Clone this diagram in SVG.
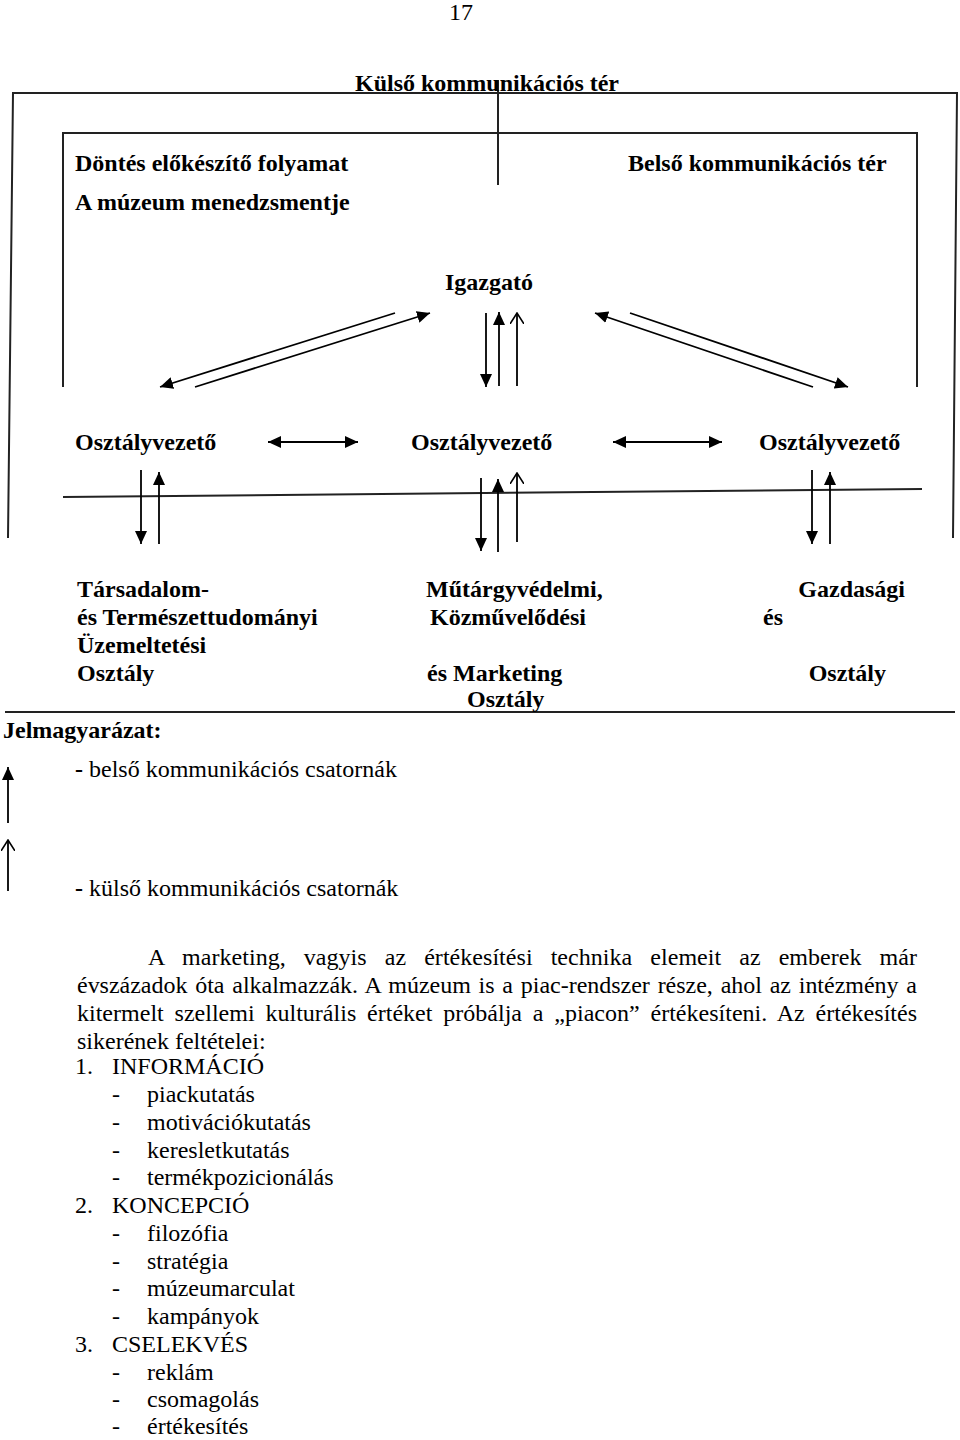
<svg xmlns="http://www.w3.org/2000/svg" width="960" height="1440" viewBox="0 0 960 1440">
<style>
text{font-family:"Liberation Serif","Times New Roman",serif;font-size:24px;fill:#000}
.b{font-weight:bold}
.ln{stroke:#000;stroke-width:1.8;fill:none}
.fr{stroke:#222;stroke-width:2;fill:none}
.f{marker-end:url(#af)}
.o{marker-end:url(#ao)}
.d{marker-start:url(#af);marker-end:url(#af)}
</style>
<defs>
<marker id="af" markerUnits="userSpaceOnUse" markerWidth="14" markerHeight="12" refX="13" refY="6" orient="auto-start-reverse"><path d="M0,0 L13,6 L0,12 z" fill="#000"/></marker>
<marker id="ao" markerUnits="userSpaceOnUse" markerWidth="12" markerHeight="14" refX="11" refY="7" orient="auto"><path d="M0,0 L11,7 L0,14" fill="none" stroke="#000" stroke-width="1.6"/></marker>
</defs>
<rect width="960" height="1440" fill="#fff"/>
<text x="449" y="20">17</text>

<g id="frames">
<polyline class="fr" points="8,538 13,93 957,93 953,538"/>
<polyline class="fr" points="63,387 63,133 917,133 917,387"/>
<line class="fr" x1="498" y1="80" x2="498" y2="185"/>
<line class="fr" x1="63" y1="497" x2="922" y2="489"/>
<line class="fr" x1="5" y1="712" x2="955" y2="712"/>
</g>

<g id="kulso"><text class="b" x="355" y="91">Külső kommunikációs tér</text></g>
<g id="dontes"><text class="b" x="75" y="171">Döntés előkészítő folyamat</text></g>
<g id="belso"><text class="b" x="628" y="171">Belső kommunikációs tér</text></g>
<g id="menedzsment"><text class="b" x="75" y="210">A múzeum menedzsmentje</text></g>
<g id="igazgato"><text class="b" x="445" y="290">Igazgató</text></g>
<g id="ov1"><text class="b" x="75" y="450">Osztályvezető</text></g>
<g id="ov2"><text class="b" x="411" y="450">Osztályvezető</text></g>
<g id="ov3"><text class="b" x="759" y="450">Osztályvezető</text></g>

<g id="osztaly1">
<text class="b" x="77" y="597">Társadalom-</text>
<text class="b" x="77" y="625">és Természettudományi</text>
<text class="b" x="77" y="653">Üzemeltetési</text>
<text class="b" x="77" y="681">Osztály</text>
</g>
<g id="osztaly2">
<text class="b" x="426" y="597">Műtárgyvédelmi,</text>
<text class="b" x="430" y="625">Közművelődési</text>
<text class="b" x="427" y="681">és Marketing</text>
<text class="b" x="467" y="707">Osztály</text>
</g>
<g id="osztaly3">
<text class="b" x="905" y="597" text-anchor="end">Gazdasági</text>
<text class="b" x="763" y="625">és</text>
<text class="b" x="886" y="681" text-anchor="end">Osztály</text>
</g>

<g id="connectors">
<line class="ln f" x1="395" y1="313" x2="160" y2="387"/>
<line class="ln f" x1="195" y1="387" x2="430" y2="313"/>
<line class="ln f" x1="813" y1="387" x2="595" y2="313"/>
<line class="ln f" x1="630" y1="313" x2="848" y2="387"/>
<line class="ln f" x1="486" y1="313" x2="486" y2="387"/>
<line class="ln f" x1="499" y1="386" x2="499" y2="312"/>
<line class="ln o" x1="517" y1="386" x2="517" y2="313"/>
<line class="ln d" x1="268" y1="442" x2="358" y2="442"/>
<line class="ln d" x1="613" y1="442" x2="722" y2="442"/>
<line class="ln f" x1="141" y1="470" x2="141" y2="544"/>
<line class="ln f" x1="159" y1="544" x2="159" y2="472"/>
<line class="ln f" x1="481" y1="478" x2="481" y2="551"/>
<line class="ln f" x1="498" y1="552" x2="498" y2="479"/>
<line class="ln o" x1="517" y1="542" x2="517" y2="473"/>
<line class="ln f" x1="812" y1="470" x2="812" y2="544"/>
<line class="ln f" x1="830" y1="544" x2="830" y2="472"/>
</g>

<g id="legend">
<text class="b" x="3" y="738">Jelmagyarázat:</text>
<line class="ln f" x1="8" y1="823" x2="8" y2="767"/>
<text x="75" y="777"><tspan class="b">-</tspan> belső kommunikációs csatornák</text>
<line class="ln o" x1="8" y1="891" x2="8" y2="840"/>
<text x="75" y="896"><tspan class="b">-</tspan> külső kommunikációs csatornák</text>
</g>

<g id="paragraph">
<text x="148" y="965" word-spacing="12" textLength="769" lengthAdjust="spacing">A marketing, vagyis az értékesítési technika elemeit az emberek már</text>
<text x="77" y="993" word-spacing="1.8" textLength="840" lengthAdjust="spacing">évszázadok óta alkalmazzák. A múzeum is a piac-rendszer része, ahol az intézmény a</text>
<text x="77" y="1021" word-spacing="4.8" textLength="840" lengthAdjust="spacing">kitermelt szellemi kulturális értéket próbálja a „piacon” értékesíteni. Az értékesítés</text>
<text x="77" y="1049">sikerének feltételei:</text>
</g>

<g id="list">
<text x="75" y="1074">1.</text><text x="112" y="1074">INFORMÁCIÓ</text>
<text x="112" y="1102">-</text><text x="147" y="1102">piackutatás</text>
<text x="112" y="1130">-</text><text x="147" y="1130">motivációkutatás</text>
<text x="112" y="1158">-</text><text x="147" y="1158">keresletkutatás</text>
<text x="112" y="1185">-</text><text x="147" y="1185">termékpozicionálás</text>
<text x="75" y="1213">2.</text><text x="112" y="1213">KONCEPCIÓ</text>
<text x="112" y="1241">-</text><text x="147" y="1241">filozófia</text>
<text x="112" y="1269">-</text><text x="147" y="1269">stratégia</text>
<text x="112" y="1296">-</text><text x="147" y="1296">múzeumarculat</text>
<text x="112" y="1324">-</text><text x="147" y="1324">kampányok</text>
<text x="75" y="1352">3.</text><text x="112" y="1352">CSELEKVÉS</text>
<text x="112" y="1380">-</text><text x="147" y="1380">reklám</text>
<text x="112" y="1407">-</text><text x="147" y="1407">csomagolás</text>
<text x="112" y="1434">-</text><text x="147" y="1434">értékesítés</text>
</g>
</svg>
